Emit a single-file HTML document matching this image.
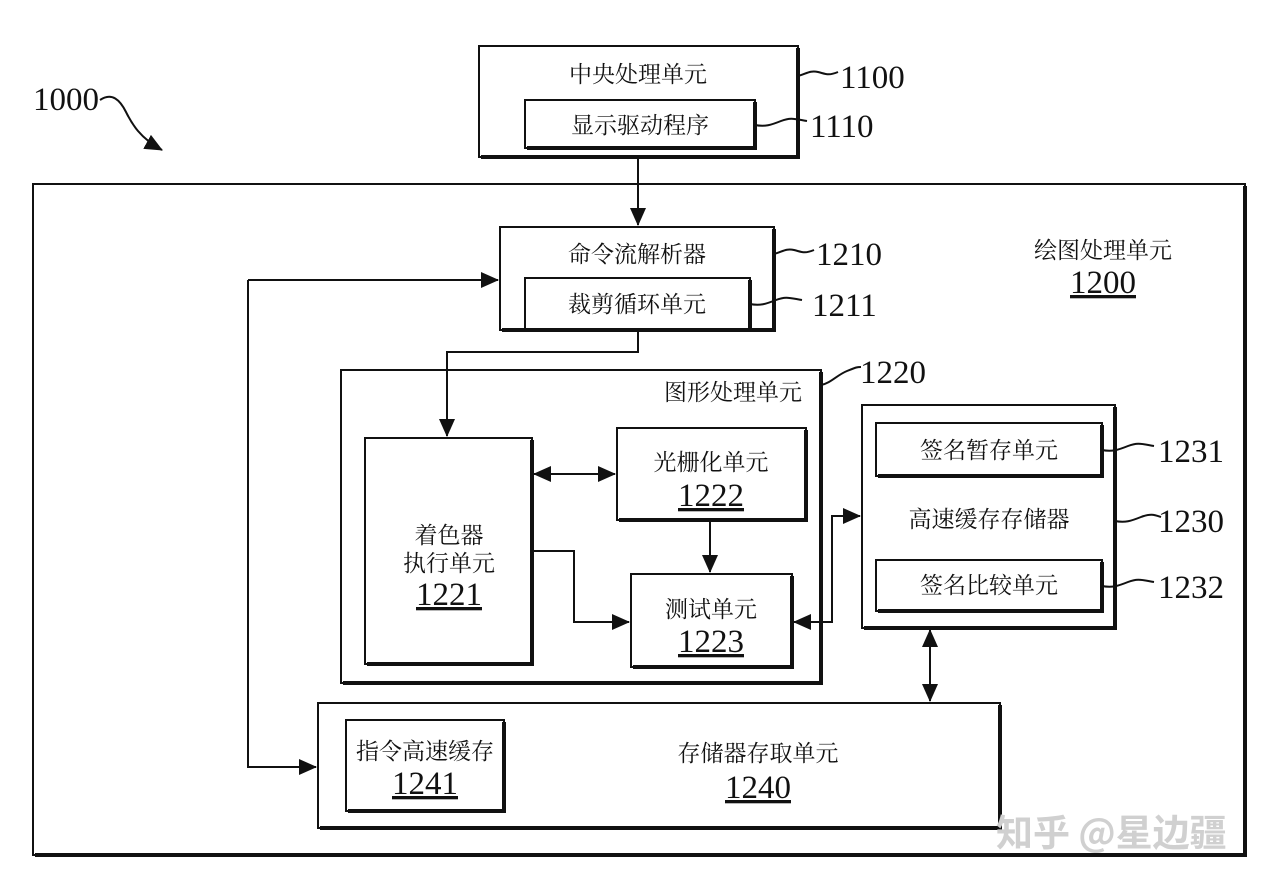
<!DOCTYPE html>
<html><head><meta charset="utf-8"><style>
html,body{margin:0;padding:0;background:#fff;}
svg text{font-family:"Liberation Serif","Noto Serif CJK SC",serif;fill:#111;}
.c{font-size:23px;}
.n{font-size:33px;}
</style></head><body>
<svg width="1262" height="885" viewBox="0 0 1262 885" xmlns="http://www.w3.org/2000/svg">
<defs>
<marker id="as" markerWidth="18" markerHeight="16" refX="17" refY="8" orient="auto-start-reverse" markerUnits="userSpaceOnUse" viewBox="0 0 18 16"><path d="M0,0 L18,8 L0,16 z" fill="#111"/></marker>
</defs>
<g fill="none" stroke="#111">
<g stroke-width="4">
<path d="M798,48 V157 H481"/>
<path d="M1245,186 V855 H35"/>
<path d="M774,229 V330 H502"/>
<path d="M821,372 V683 H343"/>
<path d="M532,440 V664 H367"/>
<path d="M806,430 V520 H619"/>
<path d="M792,576 V667 H633"/>
<path d="M1115,407 V628 H864"/>
<path d="M1102,425 V476 H878"/>
<path d="M1102,562 V611 H878"/>
<path d="M1000,705 V828 H320"/>
<path d="M504,722 V811 H348"/>
<path d="M755,102 V148 H527"/>
<path d="M750,280 V330 H527"/>
</g>
<g stroke-width="2">
<rect x="479" y="46" width="319" height="111"/>
<rect x="525" y="100" width="230" height="48"/>
<rect x="33" y="184" width="1212" height="671"/>
<rect x="500" y="227" width="274" height="103"/>
<rect x="525" y="278" width="225" height="52"/>
<rect x="341" y="370" width="480" height="313"/>
<rect x="365" y="438" width="167" height="226"/>
<rect x="617" y="428" width="189" height="92"/>
<rect x="631" y="574" width="161" height="93"/>
<rect x="862" y="405" width="253" height="223"/>
<rect x="876" y="423" width="226" height="53"/>
<rect x="876" y="560" width="226" height="51"/>
<rect x="318" y="703" width="682" height="125"/>
<rect x="346" y="720" width="158" height="91"/>
</g>
<g stroke-width="2">
<path d="M638,157 V225" marker-end="url(#as)"/>
<path d="M248,280 H498" marker-end="url(#as)"/>
<path d="M248,280 V767 H316" marker-end="url(#as)"/>
<path d="M638,330 V352 H447 V436" marker-end="url(#as)"/>
<path d="M534,474 H615" marker-start="url(#as)" marker-end="url(#as)"/>
<path d="M710,520 V572" marker-end="url(#as)"/>
<path d="M532,551 H574 V622 H629" marker-end="url(#as)"/>
<path d="M794,622 H832 V516 H860" marker-start="url(#as)" marker-end="url(#as)"/>
<path d="M930,630 V701" marker-start="url(#as)" marker-end="url(#as)"/>
<path d="M798,76 c8,-2 12,-6 20,-4 s10,4 20,0"/>
<path d="M755,125 c10,2 16,0 26,-4 s14,-2 26,0"/>
<path d="M774,254 c8,-2 12,-6 20,-4 s10,4 20,0"/>
<path d="M750,304 c10,2 16,0 26,-4 s14,-2 26,0"/>
<path d="M821,385 c10,-2 16,-10 26,-14 s10,-4 14,-4"/>
<path d="M1102,450 c10,2 16,0 26,-4 s14,-2 26,0"/>
<path d="M1115,521 c10,2 16,0 26,-4 s14,-2 20,0"/>
<path d="M1102,586 c10,2 16,0 26,-4 s14,-2 26,0"/>
<path d="M100,100 c12,-8 20,0 26,12 s14,26 36,38" marker-end="url(#as)"/>
</g>
</g>
<text class="c" x="638" y="82" text-anchor="middle">中央处理单元</text>
<text class="c" x="640" y="133" text-anchor="middle">显示驱动程序</text>
<text class="c" x="637" y="262" text-anchor="middle">命令流解析器</text>
<text class="c" x="637" y="312" text-anchor="middle">裁剪循环单元</text>
<text class="c" x="733" y="400" text-anchor="middle">图形处理单元</text>
<text class="c" x="711" y="470" text-anchor="middle">光栅化单元</text>
<text class="n" x="711" y="506" text-anchor="middle" text-decoration="underline">1222</text>
<text class="c" x="449" y="543" text-anchor="middle">着色器</text>
<text class="c" x="449" y="571" text-anchor="middle">执行单元</text>
<text class="n" x="449" y="605" text-anchor="middle" text-decoration="underline">1221</text>
<text class="c" x="711" y="617" text-anchor="middle">测试单元</text>
<text class="n" x="711" y="652" text-anchor="middle" text-decoration="underline">1223</text>
<text class="c" x="989" y="458" text-anchor="middle">签名暂存单元</text>
<text class="c" x="989" y="527" text-anchor="middle">高速缓存存储器</text>
<text class="c" x="989" y="593" text-anchor="middle">签名比较单元</text>
<text class="c" x="425" y="759" text-anchor="middle">指令高速缓存</text>
<text class="n" x="425" y="794" text-anchor="middle" text-decoration="underline">1241</text>
<text class="c" x="758" y="761" text-anchor="middle">存储器存取单元</text>
<text class="n" x="758" y="798" text-anchor="middle" text-decoration="underline">1240</text>
<text class="c" x="1103" y="258" text-anchor="middle">绘图处理单元</text>
<text class="n" x="1103" y="293" text-anchor="middle" text-decoration="underline">1200</text>
<text class="n" x="840" y="88">1100</text>
<text class="n" x="810" y="137">1110</text>
<text class="n" x="816" y="265">1210</text>
<text class="n" x="812" y="316">1211</text>
<text class="n" x="860" y="383">1220</text>
<text class="n" x="1158" y="462">1231</text>
<text class="n" x="1158" y="532">1230</text>
<text class="n" x="1158" y="598">1232</text>
<text class="n" x="33" y="110">1000</text>
<text x="996" y="846" style="font-family:'Noto Sans CJK SC',sans-serif;font-size:37px;font-weight:bold;fill:#d0d0d0">知乎 @星边疆</text>
</svg>
</body></html>
